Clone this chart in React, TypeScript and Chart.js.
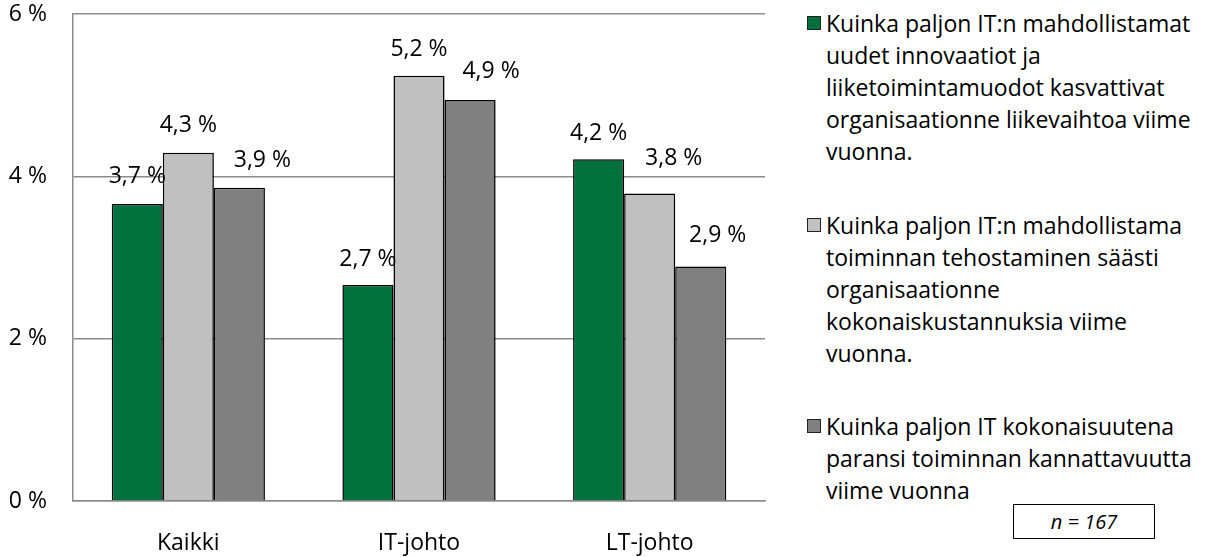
import React, { useEffect, useRef } from "react";
import { Chart, registerables } from "chart.js";

Chart.register(...registerables);

const categories = ["Kaikki", "IT-johto", "LT-johto"];
const innovaatiot = [3.66, 2.66, 4.21];
const tehostaminen = [4.29, 5.24, 3.79];
const kannattavuus = [3.86, 4.94, 2.89];
const yTickValues = [0, 2, 4, 6];

const legendLines1 = [
  "Kuinka paljon IT:n mahdollistamat",
  "uudet innovaatiot ja",
  "liiketoimintamuodot kasvattivat",
  "organisaationne liikevaihtoa viime",
  "vuonna.",
];
const legendLines2 = [
  "Kuinka paljon IT:n mahdollistama",
  "toiminnan tehostaminen säästi",
  "organisaationne",
  "kokonaiskustannuksia viime",
  "vuonna.",
];
const legendLines3 = [
  "Kuinka paljon IT kokonaisuutena",
  "paransi toiminnan kannattavuutta",
  "viime vuonna",
];
const sampleNote = "n = 167";

// value-label placement tweaks (style only): horizontal shift and lift above bar top
const labelDx = [
  [0, 0, 0],
  [0, 0, 24],
  [23, 21, 17],
];
const labelLift = [
  [27, 26, 26],
  [27, 26, 35],
  [27, 29, 31],
];

const colors = ["#00703C", "#C0C0C0", "#808080"];
const FONT = "'Open Sans', 'Noto Sans', sans-serif";
const FS = 23;

const fmt = (v: number) => v.toFixed(1).replace(".", ",") + " %";

const shadowPlugin = {
  id: "barShadow",
  beforeDatasetsDraw(chart: any) {
    const ctx = chart.ctx;
    ctx.save();
    ctx.shadowColor = "rgba(0,0,0,0.3)";
    ctx.shadowBlur = 5;
    ctx.shadowOffsetX = 2;
    ctx.shadowOffsetY = 2;
  },
  afterDatasetsDraw(chart: any) {
    chart.ctx.restore();
  },
};

const labelPlugin = {
  id: "valueLabels",
  afterDraw(chart: any) {
    const ctx = chart.ctx;
    ctx.save();
    ctx.font = `${FS}px ${FONT}`;
    ctx.fillStyle = "#000";
    ctx.textAlign = "center";
    ctx.textBaseline = "middle";
    chart.data.datasets.forEach((ds: any, i: number) => {
      const meta = chart.getDatasetMeta(i);
      meta.data.forEach((bar: any, j: number) => {
        ctx.fillText(fmt(ds.data[j]), bar.x + labelDx[i][j], bar.y - labelLift[i][j]);
      });
    });
    ctx.restore();
  },
};

export default function App() {
  const ref = useRef<HTMLCanvasElement | null>(null);

  useEffect(() => {
    if (!ref.current) return;
    const mk = (label: string[], data: number[], c: string) => ({
      label: label.join(" "),
      data,
      backgroundColor: c,
      borderColor: "#000",
      borderWidth: 1.5,
      categoryPercentage: 0.664,
      barPercentage: 1,
    });
    const chart = new Chart(ref.current, {
      type: "bar",
      data: {
        labels: categories,
        datasets: [
          mk(legendLines1, innovaatiot, colors[0]),
          mk(legendLines2, tehostaminen, colors[1]),
          mk(legendLines3, kannattavuus, colors[2]),
        ],
      },
      options: {
        animation: false,
        responsive: false,
        layout: { padding: { top: 14, right: 15, left: 0, bottom: 0 } },
        plugins: { legend: { display: false }, tooltip: { enabled: false } },
        scales: {
          x: {
            grid: { display: false, drawTicks: false },
            border: { display: true, color: "#8c8c8c", width: 1.5 },
            ticks: { color: "#000", font: { family: FONT, size: FS }, padding: 29 },
            afterFit: (s: any) => {
              s.height = 56;
              s.paddingLeft = 0;
              s.paddingRight = 0;
            },
          },
          y: {
            min: 0,
            max: 6,
            afterBuildTicks: (s: any) => {
              s.ticks = yTickValues.map((v) => ({ value: v }));
            },
            grid: { color: "#8c8c8c", lineWidth: 1.5, drawTicks: false },
            border: { display: true, color: "#8c8c8c", width: 1.5 },
            ticks: {
              color: "#000",
              font: { family: FONT, size: FS },
              padding: 26,
              callback: (v: any) => `${v} %`,
            },
            afterFit: (s: any) => {
              s.width = 73;
              s.paddingTop = 0;
              s.paddingBottom = 0;
            },
          },
        },
      },
      plugins: [shadowPlugin, labelPlugin],
    });
    return () => chart.destroy();
  }, []);

  const items = [
    { lines: legendLines1, color: colors[0], top: 23 },
    { lines: legendLines2, color: colors[1], top: 225 },
    { lines: legendLines3, color: colors[2], top: 426 },
  ];

  return (
    <div
      style={{
        position: "absolute",
        left: 0,
        top: 0,
        width: 1205,
        height: 557,
        background: "#fff",
        fontFamily: FONT,
        color: "#000",
      }}
    >
      <canvas ref={ref} width={780} height={557} style={{ position: "absolute", left: 0, top: 0 }} />
      {items.map((it, i) => (
        <React.Fragment key={i}>
          <div
            style={{
              position: "absolute",
              left: 807,
              top: it.top - 7,
              width: 12,
              height: 12,
              background: it.color,
              border: "1.5px solid #222",
            }}
          />
          <div
            style={{
              position: "absolute",
              left: 826,
              top: it.top - 16,
              fontSize: FS,
              lineHeight: "32px",
              whiteSpace: "nowrap",
            }}
          >
            {it.lines.map((l, k) => (
              <div key={k}>{l}</div>
            ))}
          </div>
        </React.Fragment>
      ))}
      <div
        style={{
          position: "absolute",
          left: 1013,
          top: 504,
          width: 140,
          height: 33,
          border: "1px solid #000",
          fontStyle: "italic",
          fontSize: 20,
          lineHeight: "33px",
          textAlign: "center",
        }}
      >
        {sampleNote}
      </div>
    </div>
  );
}
